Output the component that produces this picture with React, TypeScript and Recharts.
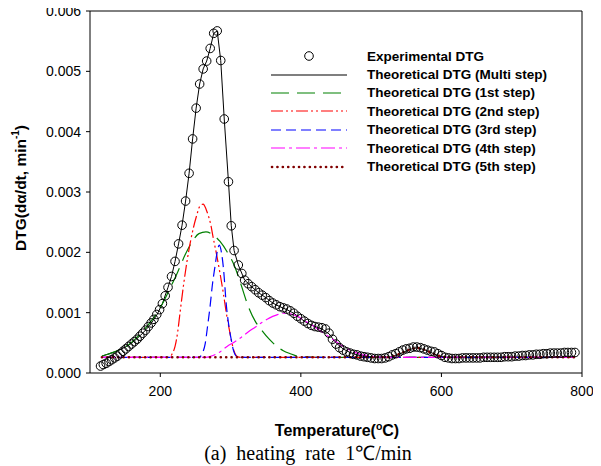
import React from 'react';
import { ComposedChart, Line, Scatter, XAxis, YAxis, Legend, ReferenceLine } from 'recharts';

// experimental DTG (temperature °C, dα/dt)
const experimental: [number, number][] = [
    [115, 0.000115], [119, 0.00014], [123, 0.00016], [127, 0.00019], [131, 0.00022], [135, 0.00025],
    [139, 0.00028], [143, 0.00032], [147, 0.00036], [151, 0.0004], [155, 0.00044], [159, 0.00048],
    [163, 0.00052], [167, 0.00056], [171, 0.00061], [175, 0.00066], [179, 0.00071], [183, 0.00077],
    [187, 0.00083], [191, 0.00089], [195, 0.00097], [199, 0.00105], [203, 0.00115], [207, 0.00128],
    [211, 0.00142], [216, 0.0016], [221, 0.00185], [226, 0.00214], [231, 0.00245], [236, 0.00285],
    [241, 0.00331], [246, 0.00388], [251, 0.00439], [256, 0.00479], [261, 0.00504], [266, 0.00517],
    [271, 0.00538], [276, 0.00563], [281, 0.00567], [286, 0.00518], [291, 0.00421], [297, 0.00317],
    [301, 0.00244], [305, 0.00203], [311, 0.00179], [316, 0.00165], [320, 0.00154], [325, 0.00148],
    [330, 0.00143], [335, 0.00138], [340, 0.00133], [345, 0.00129], [350, 0.00125], [355, 0.0012],
    [360, 0.00116], [365, 0.00113], [370, 0.0011], [375, 0.00108], [380, 0.00106], [385, 0.00103],
    [390, 0.00099], [395, 0.00094], [400, 0.0009], [405, 0.00086], [410, 0.00082], [415, 0.00079],
    [420, 0.00077], [425, 0.00076], [430, 0.00075], [435, 0.00073], [440, 0.00066], [445, 0.00056],
    [450, 0.00048], [455, 0.00042], [460, 0.00038], [465, 0.00035], [470, 0.00033], [475, 0.00031],
    [480, 0.0003], [485, 0.00028], [490, 0.00027], [495, 0.00026], [500, 0.00025], [505, 0.00024],
    [510, 0.00024], [515, 0.00024], [520, 0.00025], [525, 0.00027], [530, 0.0003], [535, 0.00032],
    [540, 0.00035], [545, 0.00038], [550, 0.0004], [555, 0.00041], [560, 0.00043], [565, 0.00043],
    [570, 0.00042], [575, 0.0004], [580, 0.00038], [585, 0.00036], [590, 0.00035], [595, 0.00032],
    [600, 0.00029], [605, 0.00026], [610, 0.00025], [615, 0.00024], [620, 0.00024], [625, 0.00024],
    [630, 0.00025], [635, 0.00025], [640, 0.00025], [645, 0.00025], [650, 0.00025], [655, 0.00025],
    [660, 0.00026], [665, 0.00026], [670, 0.00026], [675, 0.00026], [680, 0.00026], [685, 0.00026],
    [690, 0.00027], [695, 0.00027], [700, 0.00027], [705, 0.00028], [710, 0.00028], [715, 0.00029],
    [720, 0.00029], [725, 0.0003], [730, 0.0003], [735, 0.00031], [740, 0.00031], [745, 0.00032],
    [750, 0.00032], [755, 0.00033], [760, 0.00033], [765, 0.00033], [770, 0.00033], [775, 0.00034],
    [780, 0.00034], [785, 0.00034], [790, 0.00034],
];

const multiStep: [number, number][] = [
    [117, 0.00028], [125, 0.00031], [135, 0.00035], [145, 0.0004], [155, 0.00046], [165, 0.00055],
    [175, 0.00066], [185, 0.00079], [195, 0.00096], [203, 0.00115], [211, 0.00142], [216, 0.0016],
    [221, 0.00185], [226, 0.00214], [231, 0.00245], [236, 0.00285], [241, 0.00331], [246, 0.00388],
    [251, 0.00439], [256, 0.00479], [261, 0.00504], [266, 0.00517], [271, 0.00538], [276, 0.00563],
    [281, 0.00567], [286, 0.00518], [291, 0.00421], [297, 0.00317], [301, 0.00244], [305, 0.00203],
    [311, 0.00179], [320, 0.00154], [330, 0.00143], [340, 0.00133], [350, 0.00125], [360, 0.00116],
    [370, 0.0011], [380, 0.00105], [390, 0.00099], [400, 0.0009], [410, 0.00082], [420, 0.00077],
    [430, 0.00073], [440, 0.00065], [450, 0.0005], [460, 0.0004], [470, 0.00034], [480, 0.0003],
    [490, 0.00028], [500, 0.00027], [515, 0.00026], [525, 0.00026], [535, 0.00029], [545, 0.00034],
    [555, 0.00039], [565, 0.00042], [575, 0.00039], [585, 0.00034], [595, 0.00029], [605, 0.00026],
    [790, 0.00026],
];

const step1: [number, number][] = [
    [117, 0.00028], [125, 0.00031], [135, 0.00035], [145, 0.0004], [155, 0.00047], [165, 0.00057],
    [175, 0.00069], [185, 0.00083], [195, 0.00099], [205, 0.00119], [215, 0.00143], [225, 0.00168],
    [235, 0.00195], [245, 0.00217], [255, 0.00231], [265, 0.00234], [275, 0.00229], [285, 0.00218],
    [295, 0.00201], [305, 0.00179], [315, 0.00146], [325, 0.00111], [335, 0.00086], [345, 0.0007],
    [355, 0.00056], [365, 0.00045], [375, 0.00037], [385, 0.00032], [395, 0.00028], [405, 0.00027],
    [420, 0.00026], [790, 0.00026],
];

const step2: [number, number][] = [
    [117, 0.00026], [212, 0.00026], [217, 0.00032], [221, 0.00044], [225, 0.0007], [228, 0.00099],
    [233, 0.00145], [238, 0.00185], [243, 0.00218], [247, 0.0024], [252, 0.00262], [256, 0.00276],
    [261, 0.0028], [265, 0.00272], [268, 0.00262], [272, 0.00245], [275, 0.00226], [280, 0.00197],
    [285, 0.00165], [290, 0.0013], [294, 0.00099], [298, 0.00073], [301, 0.00055], [305, 0.00036],
    [310, 0.00027], [315, 0.00026], [790, 0.00026],
];

const step3: [number, number][] = [
    [117, 0.00026], [255, 0.00026], [260, 0.00033], [264, 0.00049], [267, 0.00075], [271, 0.00112],
    [274, 0.00145], [278, 0.00178], [281, 0.00201], [284, 0.00212], [287, 0.002], [290, 0.00172],
    [294, 0.00112], [298, 0.00075], [301, 0.00055], [304, 0.00038], [308, 0.00028], [312, 0.00026],
    [790, 0.00026],
];

const step4: [number, number][] = [
    [117, 0.00026], [265, 0.00026], [275, 0.00029], [285, 0.00035], [295, 0.00044], [305, 0.00051],
    [315, 0.00059], [325, 0.00068], [335, 0.00076], [345, 0.00084], [355, 0.00091], [365, 0.00096],
    [375, 0.00099], [385, 0.00098], [395, 0.00094], [405, 0.00087], [415, 0.0008], [425, 0.00072],
    [435, 0.00064], [445, 0.00056], [455, 0.00048], [465, 0.00041], [475, 0.00035], [485, 0.00031],
    [495, 0.00029], [505, 0.00027], [520, 0.00026], [790, 0.00026],
];

const step5: [number, number][] = [
    [117, 0.00026], [525, 0.00026], [535, 0.00029], [545, 0.00034], [555, 0.00039], [565, 0.00042],
    [575, 0.00039], [585, 0.00034], [595, 0.00029], [605, 0.00026], [790, 0.00026],
];

const xTicks = [200, 400, 600, 800];
const yTicks = [0, 0.001, 0.002, 0.003, 0.004, 0.005, 0.006];

const legendItems = [
    { name: 'Experimental DTG', color: '#000', dash: 'circle' },
    { name: 'Theoretical DTG (Multi step)', color: '#000', dash: '' },
    { name: 'Theoretical DTG (1st step)', color: '#008000', dash: '18 8' },
    { name: 'Theoretical DTG (2nd step)', color: '#ff0000', dash: '12 3 2 3 2 3' },
    { name: 'Theoretical DTG (3rd step)', color: '#0000ff', dash: '10 5' },
    { name: 'Theoretical DTG (4th step)', color: '#ff00ff', dash: '14 4 3 4' },
    { name: 'Theoretical DTG (5th step)', color: '#800000', dash: 'dot' },
];

const toPoints = (pairs: [number, number][]) => pairs.map(([t, v]) => ({ t, v }));

const FONT = '"Liberation Sans", Arial, sans-serif';

function Circle(props: any) {
    if (props.cx == null || props.cy == null) return null;
    return <circle cx={props.cx} cy={props.cy} r={4.3} fill="none" stroke="#000" strokeWidth={1} />;
}

function LegendBox() {
    return (
        <div style={{ fontFamily: FONT, fontWeight: 'bold', fontSize: 13.5, color: '#000' }}>
            {legendItems.map((item) => (
                <div key={item.name} style={{ display: 'flex', alignItems: 'center', height: 18.4 }}>
                    <svg width={82} height={18} style={{ display: 'block' }}>
                        {item.dash === 'circle' ? (
                            <circle cx={44} cy={9} r={4.3} fill="none" stroke="#000" />
                        ) : item.dash === 'dot' ? (
                            <line x1={7} x2={82} y1={9} y2={9} stroke={item.color} strokeWidth={2.6}
                                strokeDasharray="0.1 5.3" strokeLinecap="round" />
                        ) : (
                            <line x1={6} x2={82} y1={9} y2={9} stroke={item.color} strokeWidth={1.2}
                                strokeDasharray={item.dash || undefined} />
                        )}
                    </svg>
                    <span style={{ marginLeft: 20, whiteSpace: 'nowrap' }}>{item.name}</span>
                </div>
            ))}
        </div>
    );
}

function XTitle() {
    return (
        <g>
            <text x={337} y={436} textAnchor="middle" fontFamily={FONT} fontWeight="bold" fontSize={16} fill="#000">
                Temperature(<tspan dy={-6} fontSize={10.5}>o</tspan><tspan dy={6}>C)</tspan>
            </text>
            <text x={308} y={460} textAnchor="middle" fontFamily='"Liberation Serif", "Times New Roman", serif'
                fontSize={20} fill="#000" style={{ whiteSpace: 'pre' }}>
                {'(a)  heating  rate  1℃/min'}
            </text>
        </g>
    );
}

function YTitle() {
    return (
        <text x={22} y={188} transform="rotate(-90, 22, 188)" textAnchor="middle" dominantBaseline="middle"
            fontFamily={FONT} fontWeight="bold" fontSize={15.5} fill="#000">
            DTG(dα/dt, min<tspan dy={-6} fontSize={10}>-1</tspan><tspan dy={6}>)</tspan>
        </text>
    );
}

export default function App() {
    const lineProps = { dataKey: 'v', dot: false, activeDot: false, isAnimationActive: false, legendType: 'none' as const };
    return (
        <div style={{ marginLeft: -8, marginTop: -8, width: 601, height: 466, background: '#fff' }}>
            <ComposedChart width={601} height={466} margin={{ top: 11, right: 19, bottom: 0, left: 0 }}>
                <XAxis
                    type="number"
                    dataKey="t"
                    domain={[100, 800]}
                    ticks={xTicks}
                    height={93}
                    tickSize={4}
                    tickMargin={9}
                    allowDataOverflow
                    stroke="#000"
                    tick={{ fill: '#000', fontSize: 14, fontFamily: FONT }}
                    label={<XTitle />}
                />
                <YAxis
                    type="number"
                    domain={[0, 0.006]}
                    ticks={yTicks}
                    width={90}
                    tickSize={4}
                    tickMargin={5}
                    allowDataOverflow
                    stroke="#000"
                    tickFormatter={(v: number) => v.toFixed(3)}
                    tick={{ fill: '#000', fontSize: 14, fontFamily: FONT }}
                    label={<YTitle />}
                />
                <ReferenceLine y={0.006} stroke="#000" />
                <ReferenceLine x={800} stroke="#000" />
                <Scatter data={toPoints(experimental)} dataKey="v" shape={<Circle />} isAnimationActive={false} legendType="none" />
                <Line data={toPoints(multiStep)} type="linear" stroke="#000" strokeWidth={1} {...lineProps} />
                <Line data={toPoints(step1)} type="monotone" stroke="#008000" strokeWidth={1.2} strokeDasharray="18 8" {...lineProps} />
                <Line data={toPoints(step2)} type="monotone" stroke="#ff0000" strokeWidth={1.2} strokeDasharray="12 3 2 3 2 3" {...lineProps} />
                <Line data={toPoints(step3)} type="monotone" stroke="#0000ff" strokeWidth={1.2} strokeDasharray="10 5" {...lineProps} />
                <Line data={toPoints(step4)} type="monotone" stroke="#ff00ff" strokeWidth={1.2} strokeDasharray="14 4 3 4" {...lineProps} />
                <Line data={toPoints(step5)} type="linear" stroke="#800000" strokeWidth={2.6} strokeDasharray="0.1 5.3" strokeLinecap="round" {...lineProps} />
                <Legend
                    layout="vertical"
                    align="center"
                    verticalAlign="middle"
                    content={<LegendBox />}
                    wrapperStyle={{ left: 265, top: 47, width: 320 }}
                />
            </ComposedChart>
        </div>
    );
}
